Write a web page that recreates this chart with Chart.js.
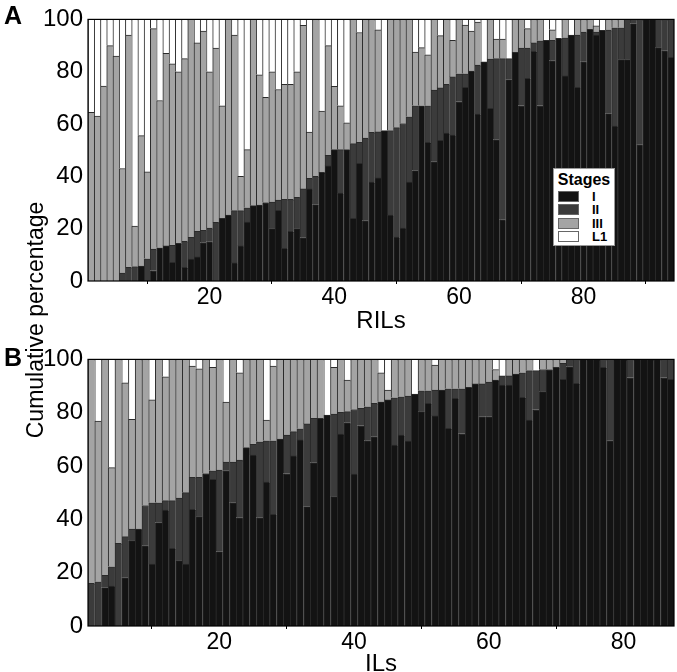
<!DOCTYPE html>
<html>
<head>
<meta charset="utf-8">
<script src="https://cdn.jsdelivr.net/npm/chart.js@4.4.0/dist/chart.umd.min.js"></script>
<style>
  html, body { margin: 0; padding: 0; background: #fff; overflow: hidden; }
  body { font-family: "Liberation Sans", Arial, sans-serif; color: #000; }
  #wrap { position: relative; width: 677px; height: 672px; }
  .panel { position: absolute; left: 0; width: 677px; }
  #panelA { top: 0; height: 340px; }
  #panelB { top: 340px; height: 332px; }
  .letter { position: absolute; left: 4px; font-weight: bold; font-size: 25px; line-height: 25px; }
  #ytitle { position: absolute; left: -115px; top: 307px; width: 300px; text-align: center;
            font-size: 23px; line-height: 26px; transform: rotate(-90deg); }
  #legend { position: absolute; left: 553px; top: 168px; width: 60px; height: 76px;
            background: #fff; border: 1px solid #999; }
  #legend .lt { position: absolute; left: 0; top: 2px; width: 60px; text-align: center;
                font-weight: bold; font-size: 16px; line-height: 18px; }
  #legend .sw { position: absolute; left: 4px; width: 19px; height: 9px; border: 1px solid #666; }
  #legend .lb { position: absolute; left: 38px; font-weight: bold; font-size: 13px; line-height: 11px; }
</style>
</head>
<body>
<div id="wrap">
  <div class="panel" id="panelA"><canvas id="chartA"></canvas></div>
  <div class="panel" id="panelB"><canvas id="chartB"></canvas></div>
  <div class="letter" style="top:3px">A</div>
  <div class="letter" style="top:345px">B</div>
  <div id="ytitle">Cumulative percentage</div>
  <div id="legend"></div>
</div>
<script>
const stageNames = ['I', 'II', 'III', 'L1'];
const stageColors = ['#131313', '#3b3b3b', '#a4a4a4', '#ffffff'];
const yTicks = [0, 20, 40, 60, 80, 100];
const xTicks = [20, 40, 60, 80];

// panel A (RILs): cumulative top of stage I, I+II, I+II+III; L1 fills up to 100
const rilCumI = [0, 0, 0, 0, 0, 0, 0, 0, 5.7, 0,
  4, 12.7, 13.4, 7.1, 14.4, 5.2, 8.4, 9.2, 14.6, 15,
  0, 24, 25.2, 6.9, 13.4, 22.5, 28.8, 29, 30, 20,
  27, 12.5, 19, 20, 16.5, 35.2, 29.2, 41.5, 44, 50.2,
  33.6, 50.2, 24, 45, 23, 37.8, 39.4, 57.5, 25.2, 16.8,
  20.2, 37.8, 42.2, 67, 53, 45.6, 53.8, 56.5, 55.8, 68.6,
  74, 80.2, 63.8, 83.8, 66, 54, 23.4, 77, 87.4, 67.1,
  77.5, 87.8, 67.1, 92, 84.2, 92.8, 78.4, 94, 74, 83.8,
  96.2, 94, 95.8, 64, 59.2, 84.6, 84.6, 98.4, 52.1, 100,
  100, 89.2, 88, 85.5];
const rilCumII = [0, 0, 0, 0, 0, 3, 5.2, 5.5, 5.7, 8.5,
  12.2, 12.7, 13.4, 13.6, 14.4, 15.2, 16.7, 19, 19.4, 20.2,
  22.4, 24, 25.2, 26.9, 26.9, 28, 28.8, 29, 30, 30.2,
  30.9, 31.2, 31.2, 32, 35.2, 39.2, 40, 41.5, 48, 50.2,
  50.2, 50.2, 52.5, 53, 54.6, 56.8, 57, 57.5, 57.5, 58.6,
  60.2, 62.8, 67, 67, 67, 73, 73.8, 75.2, 78, 79.2,
  79.2, 80.2, 82.5, 83.8, 84.8, 85, 85, 85, 87.4, 89,
  89, 91, 91.8, 92, 92, 92.8, 93, 94, 94, 95.2,
  96.2, 95.2, 95.8, 95.9, 96.8, 96.8, 100, 100, 100, 100,
  100, 100, 100, 100];
const rilCumIII = [64.5, 63, 74.5, 90, 86, 43, 94, 21, 55.6, 41.7,
  96.5, 69, 87, 83, 80, 85, 100, 91, 95.5, 80,
  89, 67, 100, 94, 40, 50.2, 100, 78.8, 70.2, 80,
  73.2, 75.2, 75.2, 80, 97.7, 56.9, 100, 65, 90, 74.4,
  67, 60.5, 100, 95, 100, 100, 96, 57.5, 100, 100,
  100, 100, 87.5, 89.2, 86.5, 100, 93.8, 100, 92, 100,
  97.8, 95.5, 99, 83.8, 100, 92.5, 92.5, 85, 100, 100,
  96.5, 100, 100, 92, 96, 92.8, 100, 94, 100, 100,
  100, 97.5, 95.8, 100, 100, 100, 100, 100, 100, 100,
  100, 100, 100, 100];

// panel B (ILs)
const ilCumI = [0, 0, 14.4, 15, 0, 18.1, 32, 36.4, 30.1, 23.2,
  38.8, 43.5, 29.1, 24.5, 23.2, 43.8, 41, 57.2, 55, 27.9,
  58.2, 46.2, 40.6, 66.9, 64.1, 40.6, 54, 41.9, 70.1, 57.2,
  63.8, 69.8, 44.8, 61.2, 77.9, 79.1, 48.5, 72, 76.2, 57,
  75.2, 69.5, 71, 84.1, 84.8, 67.9, 71.6, 69.4, 87, 80.4,
  83.5, 78.8, 88.5, 74.1, 85.4, 72.2, 89.5, 90.8, 78.5, 78.5,
  92.2, 90.4, 90.4, 94.5, 85.8, 77.2, 81.2, 87.9, 96.2, 97,
  92.5, 97.2, 91, 100, 100, 100, 97, 69.5, 100, 100,
  93.2, 100, 100, 100, 100, 93.2, 92.5];
const ilCumII = [16, 16.6, 19, 22.2, 31, 33.5, 36.4, 36.4, 45.2, 46.2,
  46.2, 47, 47, 48, 50, 55.8, 55.8, 57.2, 58.2, 58.5,
  61.5, 61.5, 62.2, 66.9, 68.1, 69.1, 69.5, 69.5, 70.1, 71.6,
  72.9, 74, 75.8, 77.9, 77.9, 79.1, 79.5, 80.1, 80.4, 81.2,
  81.6, 82.2, 83.5, 84.1, 84.8, 85.6, 86, 86.2, 87, 88.2,
  88.2, 88.5, 88.5, 89, 89, 89, 89.5, 90.8, 90.8, 91.5,
  92.2, 93.8, 93.8, 94.5, 95, 95.8, 95.8, 96.2, 96.2, 97,
  98.5, 100, 100, 100, 100, 100, 100, 100, 100, 100,
  100, 100, 100, 100, 100, 100, 100];
const ilCumIII = [100, 76.9, 100, 59.4, 100, 91.2, 77.5, 100, 100, 84.8,
  100, 93.5, 100, 100, 100, 97.5, 96.5, 100, 97, 100,
  84, 100, 95, 100, 100, 100, 77.2, 97.5, 100, 100,
  100, 100, 100, 100, 100, 79.1, 97, 100, 92.2, 100,
  100, 100, 100, 95, 88.5, 100, 100, 100, 87, 100,
  100, 97.9, 100, 100, 100, 100, 100, 100, 100, 100,
  96.2, 93.8, 100, 100, 100, 100, 95.8, 100, 100, 100,
  100, 100, 100, 100, 100, 100, 100, 100, 100, 100,
  100, 100, 100, 100, 100, 100, 100];

Chart.defaults.font.family = '"Liberation Sans", Arial, sans-serif';
Chart.defaults.color = '#000';

// black box round the plot area
const frame = {
  id: 'frame',
  afterDatasetsDraw(chart) {
    const { ctx, chartArea: a } = chart;
    ctx.save();
    ctx.strokeStyle = '#000';
    ctx.lineWidth = 1.2;
    ctx.strokeRect(a.left, a.top, a.right - a.left, a.bottom - a.top);
    ctx.restore();
  }
};

function buildChart(id, cumI, cumII, cumIII, axisTitle, padTop, xAxisH, titleShift) {
  const xs = cumI.map((_, i) => i + 1);
  const bounds = [xs.map(() => 0), cumI, cumII, cumIII, xs.map(() => 100)];
  const datasets = stageNames.map((name, s) => ({
    label: name,
    data: xs.map((x, i) => ({ x, y: [bounds[s][i], bounds[s + 1][i]] })),
    backgroundColor: stageColors[s],
    borderColor: '#2a2a2a',
    borderWidth: { left: 1, top: 1, right: 0, bottom: 0 },
    borderSkipped: false,
    grouped: false,
    barPercentage: 1,
    categoryPercentage: 1
  }));

  return new Chart(document.getElementById(id), {
    type: 'bar',
    data: { datasets },
    options: {
      responsive: true,
      maintainAspectRatio: false,
      animation: false,
      layout: { padding: { top: padTop, right: 3, left: 0, bottom: 0 } },
      plugins: { legend: { display: false }, tooltip: { enabled: false } },
      scales: {
        x: {
          type: 'linear',
          min: 0.5,
          max: xs.length + 0.5,
          offset: false,
          afterBuildTicks: (s) => { s.ticks = xTicks.map((v) => ({ value: v })); },
          afterFit: (s) => { s.height = xAxisH; },
          grid: { display: true, drawOnChartArea: false, drawTicks: true, tickLength: 3, color: '#000' },
          border: { display: false },
          ticks: { font: { size: 23 }, padding: 0, maxRotation: 0 },
          title: { display: true, text: axisTitle, font: { size: 24 }, padding: { top: 0, bottom: titleShift } }
        },
        y: {
          min: 0,
          max: 100,
          afterBuildTicks: (s) => { s.ticks = yTicks.map((v) => ({ value: v })); },
          afterFit: (s) => { s.width = 88; },
          grid: { display: false, drawTicks: false },
          border: { display: false },
          ticks: { font: { size: 24 }, padding: 5 }
        }
      }
    },
    plugins: [frame]
  });
}

buildChart('chartA', rilCumI, rilCumII, rilCumIII, 'RILs', 14, 59, 4);
buildChart('chartB', ilCumI, ilCumII, ilCumIII, 'ILs', 19, 46, -7);

// legend box inside panel A
const legend = document.getElementById('legend');
const lt = document.createElement('div');
lt.className = 'lt';
lt.textContent = 'Stages';
legend.appendChild(lt);
stageNames.forEach((name, i) => {
  const sw = document.createElement('div');
  sw.className = 'sw';
  sw.style.top = (22 + i * 13.3) + 'px';
  sw.style.background = stageColors[i];
  legend.appendChild(sw);
  const lb = document.createElement('div');
  lb.className = 'lb';
  lb.style.top = (22 + i * 13.3) + 'px';
  lb.textContent = name;
  legend.appendChild(lb);
});
</script>
</body>
</html>
